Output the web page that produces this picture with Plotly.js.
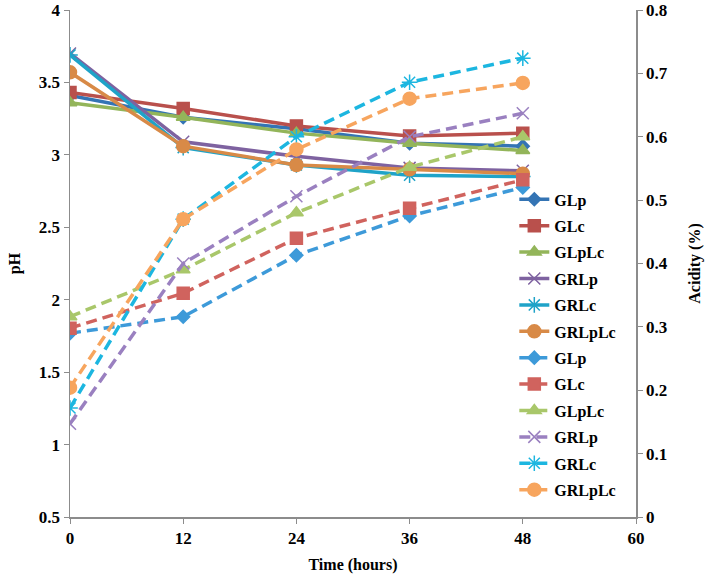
<!DOCTYPE html>
<html>
<head>
<meta charset="utf-8">
<script src="https://cdn.plot.ly/plotly-3.0.1.min.js"></script>
<style>
  html, body { margin: 0; padding: 0; background: #fff; }
  #chart { width: 709px; height: 574px; }
</style>
</head>
<body>
<div id="chart"></div>
<script>
const hours = [0, 12, 24, 36, 48];
const names = ['GLp', 'GLc', 'GLpLc', 'GRLp', 'GRLc', 'GRLpLc'];

// pH (left axis, solid lines)
const phGLp    = [3.41, 3.26, 3.18, 3.08, 3.06];
const phGLc    = [3.43, 3.32, 3.20, 3.13, 3.15];
const phGLpLc  = [3.36, 3.26, 3.15, 3.08, 3.03];
const phGRLp   = [3.70, 3.09, 2.99, 2.91, 2.89];
const phGRLc   = [3.69, 3.05, 2.93, 2.86, 2.85];
const phGRLpLc = [3.57, 3.06, 2.93, 2.90, 2.87];

// acidity % (right axis, dashed lines)
const acGLp    = [0.290, 0.316, 0.413, 0.475, 0.520];
const acGLc    = [0.298, 0.353, 0.440, 0.487, 0.532];
const acGLpLc  = [0.316, 0.390, 0.480, 0.552, 0.600];
const acGRLp   = [0.147, 0.400, 0.506, 0.600, 0.637];
const acGRLc   = [0.172, 0.470, 0.600, 0.686, 0.724];
const acGRLpLc = [0.204, 0.470, 0.580, 0.660, 0.685];

const solidColors  = ['#3474b4', '#b9504c', '#93b55a', '#7e62a0', '#1fa3c8', '#d88a47'];
const dashedColors = ['#3d9ad9', '#d0635e', '#a9c76a', '#9a80c0', '#1cb6e0', '#f7a55e'];
const symbols = ['diamond', 'square', 'triangle-up', 'x-thin-open', 'asterisk-open', 'circle'];
const sizes   = [10, 12, 12, 12, 13, 13];

const phSeries = [phGLp, phGLc, phGLpLc, phGRLp, phGRLc, phGRLpLc];
const acSeries = [acGLp, acGLc, acGLpLc, acGRLp, acGRLc, acGRLpLc];

const traces = [];
phSeries.forEach((ys, i) => {
    traces.push({
        x: hours, y: ys, name: names[i], legendgroup: 'ph' + i,
        mode: 'lines+markers',
        line: { color: solidColors[i], width: 3.5 },
        marker: { symbol: symbols[i], size: sizes[i], color: solidColors[i],
                  line: { color: solidColors[i], width: 1.5 } }
    });
});
acSeries.forEach((ys, i) => {
    traces.push({
        x: hours, y: ys, name: names[i], yaxis: 'y2', legendgroup: 'ac' + i,
        mode: 'lines+markers',
        line: { color: dashedColors[i], width: 3.5, dash: '11px,6px' },
        marker: { symbol: symbols[i], size: sizes[i], color: dashedColors[i],
                  line: { color: dashedColors[i], width: 1.5 } }
    });
});

const font = { family: 'Liberation Serif, Times New Roman, serif', color: '#000', size: 16 };
const axisLine = '#8c8c8c';

const layout = {
    width: 709, height: 574,
    paper_bgcolor: '#fff', plot_bgcolor: '#fff',
    font: font,
    margin: { l: 70, r: 73, t: 10, b: 57 },
    showlegend: true,
    legend: {
        x: 0.785, y: 0.66, xanchor: 'left', yanchor: 'top',
        bgcolor: 'rgba(0,0,0,0)',
        font: { family: font.family, size: 16, color: '#000', weight: 'bold' },
        tracegroupgap: 2.6
    },
    xaxis: {
        range: [0, 60], tickvals: [0, 12, 24, 36, 48, 60],
        showgrid: false, zeroline: false,
        showline: true, linecolor: axisLine, linewidth: 1.5,
        ticks: 'outside', ticklen: 5, tickcolor: axisLine,
        tickfont: { family: font.family, size: 17, weight: 'bold' },
        title: { text: 'Time (hours)', font: { family: font.family, size: 16, weight: 'bold' }, standoff: 12 }
    },
    yaxis: {
        range: [0.5, 4], dtick: 0.5,
        showgrid: false, zeroline: false,
        showline: true, linecolor: axisLine, linewidth: 1.5,
        ticks: 'outside', ticklen: 5, tickcolor: axisLine,
        tickfont: { family: font.family, size: 17, weight: 'bold' },
        title: { text: 'pH', font: { family: font.family, size: 16, weight: 'bold' }, standoff: 14 }
    },
    yaxis2: {
        range: [0, 0.8], dtick: 0.1, overlaying: 'y', side: 'right',
        showgrid: false, zeroline: false,
        showline: true, linecolor: axisLine, linewidth: 1.5,
        ticks: 'outside', ticklen: 5, tickcolor: axisLine,
        tickfont: { family: font.family, size: 17, weight: 'bold' },
        title: { text: 'Acidity (%)', font: { family: font.family, size: 16, weight: 'bold' }, standoff: 22 }
    }
};

Plotly.newPlot('chart', traces, layout, { displayModeBar: false, staticPlot: true });
</script>
</body>
</html>
